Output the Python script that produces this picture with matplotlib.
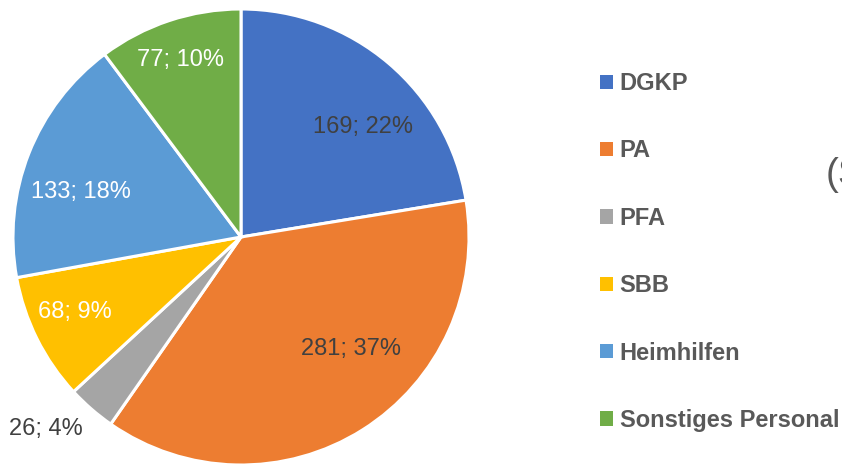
import numpy as np
import matplotlib.pyplot as plt
from matplotlib.patches import Patch

categories = ["DGKP", "PA", "PFA", "SBB", "Heimhilfen", "Sonstiges Personal"]
counts = [169, 281, 26, 68, 133, 77]
percent_labels = ["22%", "37%", "4%", "9%", "18%", "10%"]

colors = ["#4472C4", "#ED7D31", "#A5A5A5", "#FFC000", "#5B9BD5", "#70AD47"]
label_colors = ["#404040", "#404040", "#404040", "white", "white", "white"]
# label placement: radius as fraction of pie radius, angle shift from wedge middle
label_r = [0.72, 0.69, 1.20, 0.80, 0.73, 0.82]
label_shift = [-7.4, 12.3, -4.3, -2.3, 5.9, 0.6]

W, H = 842, 465
fig = plt.figure(figsize=(W / 100, H / 100), dpi=100)
ax = fig.add_axes([0, 0, 1, 1])

cx, cy, R = 241, H - 237, 228
wedges, _ = ax.pie(counts, colors=colors, startangle=90, counterclock=False,
                   center=(cx, cy), radius=R, frame=True,
                   wedgeprops=dict(edgecolor="white", linewidth=2.2))
ax.set_xlim(0, W)
ax.set_ylim(0, H)
ax.set_aspect("equal")
ax.axis("off")

for w, n, p, c, r, s in zip(wedges, counts, percent_labels, label_colors, label_r, label_shift):
    mid = np.deg2rad((w.theta1 + w.theta2) / 2 + s)
    ax.text(cx + r * R * np.cos(mid), cy + r * R * np.sin(mid), f"{n}; {p}",
            ha="center", va="center", fontsize=17, color=c,
            family="Liberation Sans")

handles = [Patch(facecolor=c, edgecolor="none") for c in colors]
leg = ax.legend(handles, categories, loc="upper left",
                bbox_to_anchor=(600 / W, 1 - 72 / H), frameon=False,
                prop=dict(family="Liberation Sans", weight="bold", size=17),
                labelcolor="#595959", handlelength=0.55, handleheight=0.55,
                handletextpad=0.28, labelspacing=1.88, borderpad=0, borderaxespad=0)

# partly visible text at the right edge, cut off as in the original
ax.text(826, H - 175, "(S", fontsize=28, color="#595959", va="center", ha="left",
        family="Liberation Sans")

fig.savefig("out.png", dpi=100)
